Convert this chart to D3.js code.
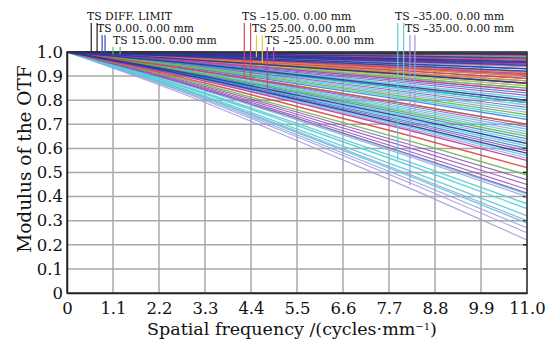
<!DOCTYPE html>
<html>
<head>
<meta charset="utf-8">
<script src="https://cdn.jsdelivr.net/npm/d3@7/dist/d3.min.js"></script>
<style>
  html, body { margin: 0; padding: 0; background: #fff; }
  svg { display: block; font-family: "DejaVu Serif", serif; }
</style>
</head>
<body>
<div id="chart"></div>
<script>
// frequencies (cycles/mm) at which each curve was read
const freqs = [0, 2.75, 5.5, 8.25, 11];

const xTicks = [0, 1.1, 2.2, 3.3, 4.4, 5.5, 6.6, 7.7, 8.8, 9.9, 11.0];
const xTickLabels = ["0", "1.1", "2.2", "3.3", "4.4", "5.5", "6.6", "7.7", "8.8", "9.9", "11.0"];
const yTicks = [0, 0.1, 0.2, 0.3, 0.4, 0.5, 0.6, 0.7, 0.8, 0.9, 1.0];
const yTickLabels = ["0", "0.1", "0.2", "0.3", "0.4", "0.5", "0.6", "0.7", "0.8", "0.9", "1.0"];

// MTF curves, grouped by colour (values at freqs)
const lavenderCurves = [
  [1, .989, .977, .964, .95], [1, .969, .934, .898, .86], [1, .945, .883, .818, .75],
  [1, .927, .845, .759, .67], [1, .903, .793, .679, .56], [1, .868, .718, .562, .40],
  [1, .846, .671, .489, .30], [1, .839, .657, .467, .27], [1, .835, .648, .453, .25],
  [1, .828, .633, .431, .22]
];
const cyanCurves = [
  [1, .985, .967, .949, .93], [1, .967, .93, .89, .85], [1, .958, .911, .861, .81],
  [1, .952, .897, .839, .78], [1, .947, .887, .825, .76], [1, .941, .873, .803, .73],
  [1, .934, .859, .781, .70], [1, .93, .85, .766, .68], [1, .925, .84, .752, .66],
  [1, .919, .826, .73, .63], [1, .914, .817, .715, .61], [1, .905, .798, .686, .57],
  [1, .87, .723, .569, .41], [1, .861, .704, .54, .37], [1, .857, .695, .526, .35],
  [1, .85, .68, .504, .32], [1, .844, .666, .482, .29]
];
const purpleCurves = [
  [1, .991, .981, .971, .96], [1, .976, .948, .92, .89], [1, .96, .915, .869, .82],
  [1, .949, .892, .832, .77], [1, .932, .854, .774, .69], [1, .91, .807, .701, .59],
  [1, .883, .751, .613, .47], [1, .879, .742, .599, .45], [1, .875, .732, .584, .43],
  [1, .871, .725, .573, .415]
];
const blueCurves = [
  [1, .978, .953, .927, .90], [1, .963, .92, .876, .83], [1, .954, .901, .847, .79],
  [1, .938, .868, .796, .72], [1, .921, .831, .737, .64], [1, .912, .812, .708, .60]
];
const tealCurves = [
  [1, .974, .944, .912, .88], [1, .954, .901, .847, .79]
];
const greenCurves = [
  [1, .996, .991, .985, .98], [1, .987, .972, .956, .94], [1, .971, .939, .905, .87],
  [1, .967, .93, .89, .85], [1, .943, .878, .81, .74], [1, .923, .836, .745, .65],
  [1, .888, .76, .628, .49]
];
const yellowCurves = [
  [1, .991, .981, .971, .96], [1, .969, .934, .898, .86]
];
const redCurves = [
  [1, .993, .986, .978, .97], [1, .979, .955, .931, .905], [1, .976, .948, .92, .89],
  [1, .971, .939, .905, .87], [1, .934, .859, .781, .70], [1, .894, .774, .65, .52]
];
const orangeCurves = [
  [1, .981, .96, .938, .915], [1, .978, .953, .927, .90], [1, .974, .944, .912, .88]
];
const pinkCurves = [
  [1, .987, .972, .956, .94], [1, .965, .925, .883, .84]
];
const magentaCurves = [
  [1, .997, .993, .989, .985], [1, .992, .984, .974, .965], [1, .989, .977, .964, .95],
  [1, .98, .958, .934, .91], [1, .965, .925, .883, .84], [1, .901, .789, .672, .55]
];
const darkBlueCurves = [
  [1, .998, .995, .993, .99], [1, .995, .988, .982, .975], [1, .991, .981, .971, .96],
  [1, .99, .979, .967, .955], [1, .988, .974, .96, .945], [1, .985, .967, .949, .93],
  [1, .982, .962, .942, .92], [1, .971, .939, .905, .87], [1, .956, .906, .854, .80],
  [1, .916, .821, .723, .62], [1, .908, .803, .693, .58]
];
const diffCurves = [
  [1, .999, .998, .996, .995], [1, .998, .996, .994, .992]
];

// legend: label, marker frequencies (T, S) and the curve value each marker points to
const legendLabels = ["TS DIFF. LIMIT", "TS 0.00. 0.00 mm", "TS 15.00. 0.00 mm",
  "TS \u201315.00. 0.00 mm", "TS 25.00. 0.00 mm", "TS \u201325.00. 0.00 mm",
  "TS \u201335.00. 0.00 mm", "TS \u201335.00. 0.00 mm"];
const legendMarkFreq = [[0.58, 0.72], [0.84, 0.91], [1.10, 1.27], [4.24, 4.39],
  [4.53, 4.67], [4.79, 4.94], [7.91, 8.05], [8.20, 8.32]];
const legendMarkValue = [[1.0, 1.0], [0.995, 0.995], [0.99, 0.99], [0.89, 0.90],
  [0.98, 0.955], [0.82, 0.946], [0.552, 0.863], [0.448, 0.76]];

// layout & styles
const legendPos = [[87, 20], [97, 32], [113, 44], [242, 20], [252, 32], [265, 44], [395, 20], [405, 32]];
const legendColors = ["#222", "#3a48c0", "#5cc050", "#d44a5a", "#d8d040", "#b048c0", "#58d0d4", "#9a98e0"];

const curveGroups = [
  { data: lavenderCurves, color: "#9c9ce0", width: 1.1 },
  { data: cyanCurves, color: "#56cdd6", width: 1.4 },
  { data: purpleCurves, color: "#9252b8", width: 1.1 },
  { data: blueCurves, color: "#4080d6", width: 1.3 },
  { data: tealCurves, color: "#2aa8a8", width: 1.3 },
  { data: greenCurves, color: "#68b848", width: 1.4 },
  { data: yellowCurves, color: "#bccc3a", width: 1.3 },
  { data: redCurves, color: "#d84848", width: 1.5 },
  { data: orangeCurves, color: "#e88a30", width: 1.4 },
  { data: pinkCurves, color: "#e070c8", width: 1.2 },
  { data: magentaCurves, color: "#c03a9c", width: 1.4 },
  { data: darkBlueCurves, color: "#28369e", width: 1.5 },
  { data: diffCurves, color: "#303040", width: 1.4 }
];

const width = 547, height = 342;
const svg = d3.select("#chart").append("svg")
  .attr("width", width)
  .attr("height", height);

const x = d3.scaleLinear().domain([0, 11]).range([67, 527]);
const y = d3.scaleLinear().domain([0, 1]).range([293, 52]);

// grid
const grid = svg.append("g");
grid.selectAll("line.v")
  .data(xTicks.slice(1))
  .enter().append("line")
  .attr("x1", d => x(d)).attr("x2", d => x(d))
  .attr("y1", y(0)).attr("y2", y(1))
  .attr("stroke", "#a8a8a8").attr("stroke-width", 1.5);
grid.selectAll("line.h")
  .data(yTicks.slice(1))
  .enter().append("line")
  .attr("x1", x(0)).attr("x2", x(11))
  .attr("y1", d => y(d)).attr("y2", d => y(d))
  .attr("stroke", "#a8a8a8").attr("stroke-width", 1.5);

// small ticks on the right border
grid.selectAll("line.rt")
  .data(yTicks.slice(1, -1))
  .enter().append("line")
  .attr("x1", x(11) - 4).attr("x2", x(11))
  .attr("y1", d => y(d)).attr("y2", d => y(d))
  .attr("stroke", "#222").attr("stroke-width", 1.5);

// curves
const line = d3.line()
  .x((d, i) => x(freqs[i]))
  .y(d => y(d))
  .curve(d3.curveMonotoneX);

curveGroups.forEach(g => {
  svg.append("g").selectAll("path")
    .data(g.data)
    .enter().append("path")
    .attr("d", line)
    .attr("fill", "none")
    .attr("stroke", g.color)
    .attr("stroke-width", g.width)
    .attr("stroke-opacity", 0.9);
});

// frame
svg.append("rect")
  .attr("x", x(0)).attr("y", y(1))
  .attr("width", x(11) - x(0)).attr("height", y(0) - y(1))
  .attr("fill", "none").attr("stroke", "#333").attr("stroke-width", 1.5);

// axes
const xAxis = d3.axisBottom(x)
  .tickValues(xTicks)
  .tickFormat((d, i) => xTickLabels[i])
  .tickSize(0).tickPadding(9);
const gx = svg.append("g").attr("transform", `translate(0,${y(0)})`).call(xAxis);
gx.select(".domain").attr("stroke", "#222").attr("stroke-width", 1.5);
gx.selectAll("text").attr("font-family", "DejaVu Serif").attr("font-size", 16.5).attr("fill", "#111");

const yAxis = d3.axisLeft(y)
  .tickValues(yTicks)
  .tickFormat((d, i) => yTickLabels[i])
  .tickSize(0).tickPadding(4);
const gy = svg.append("g").attr("transform", `translate(${x(0)},0)`).call(yAxis);
gy.select(".domain").attr("stroke", "#222").attr("stroke-width", 1.5);
gy.selectAll("text").attr("font-family", "DejaVu Serif").attr("font-size", 16.5).attr("fill", "#111");

// axis titles
svg.append("text")
  .attr("x", 292).attr("y", 335)
  .attr("text-anchor", "middle")
  .attr("font-size", 17.5).attr("fill", "#111")
  .text("Spatial frequency /(cycles\u00b7mm")
  .append("tspan").attr("dy", -5.5).attr("font-size", 10).text("\u22121")
  .clone().attr("dy", 5.5).attr("font-size", 17.5).text(")");

svg.append("text")
  .attr("transform", `translate(31,${159}) rotate(-90)`)
  .attr("text-anchor", "middle")
  .attr("font-size", 18.5).attr("fill", "#111")
  .text("Modulus of the OTF");

// legend
const legend = svg.append("g");
legendLabels.forEach((label, i) => {
  const [lx, ly] = legendPos[i];
  legendMarkFreq[i].forEach((f, j) => {
    legend.append("line")
      .attr("x1", x(f)).attr("x2", x(f))
      .attr("y1", ly + 3).attr("y2", y(legendMarkValue[i][j]))
      .attr("stroke", legendColors[i]).attr("stroke-width", 1.2);
  });
  legend.append("text")
    .attr("x", lx).attr("y", ly)
    .attr("font-size", 10.8).attr("fill", "#111")
    .text(label);
});
</script>
</body>
</html>
